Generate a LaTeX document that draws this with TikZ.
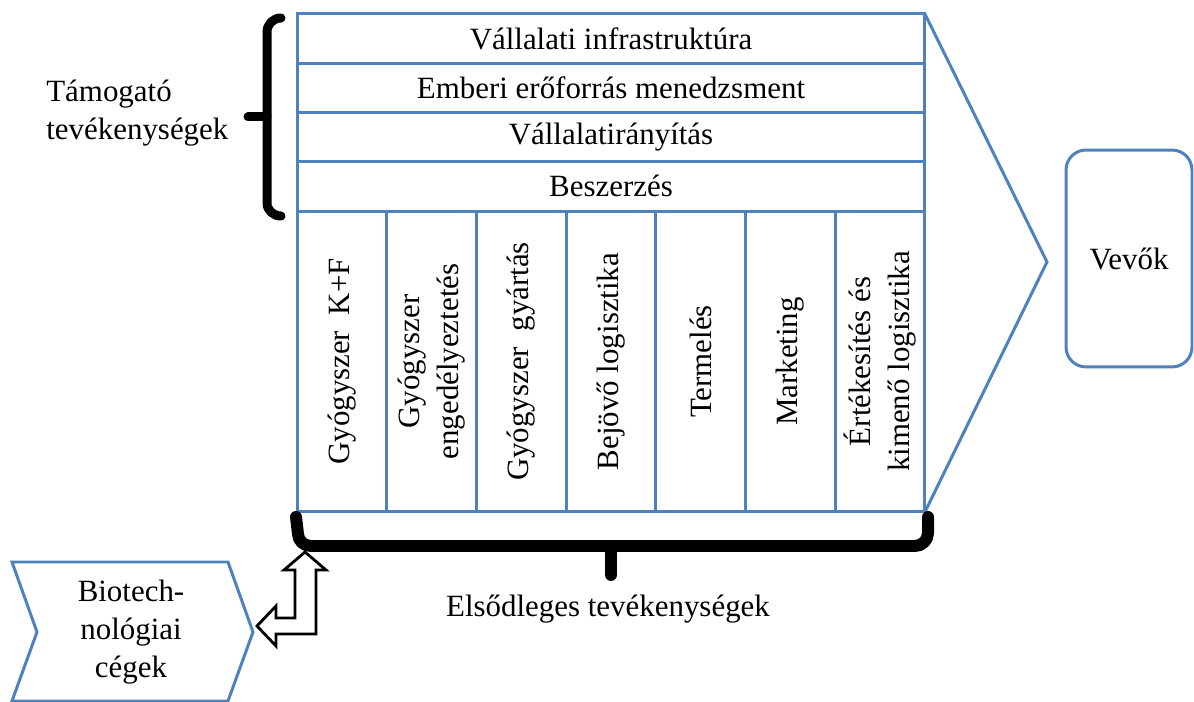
\documentclass[tikz,border=0pt]{standalone}
\usepackage{fontspec}
\setmainfont{Liberation Serif}
\usetikzlibrary{positioning}
\definecolor{lineblue}{RGB}{79,129,189}

\begin{document}
\begin{tikzpicture}[
    x=0.02cm, y=-0.02cm,
    font=\fontsize{17.6}{22}\selectfont,
    row/.style={rectangle, draw=lineblue, line width=1.7pt, minimum width=12.56cm, minimum height=0.985cm, inner sep=0pt, outer sep=0pt},
    col/.style={rectangle, draw=lineblue, line width=1.7pt, rotate=90, minimum width=6.02cm, minimum height=1.794cm, inner sep=0pt, outer sep=0pt, align=center},
    blueline/.style={draw=lineblue, line width=1.7pt},
    brace/.style={draw, line cap=round, line join=round},
    label/.style={inner sep=0pt, align=center}
]
    \useasboundingbox (0,0) rectangle (1194,702);

    % Support activities
    \node[row] (infra) at (611,38.6) {Vállalati infrastruktúra};
    \node[row] (hr) at (611,87.9) {Emberi erőforrás menedzsment};
    \node[row] (irany) at (611,137.1) {Vállalatirányítás};
    \node[row] (beszerzes) at (611,186.4) {Beszerzés};

    % Primary activities
    \node[col] (rd) at (341.9,361.5) {Gyógyszer\ \ K+F};
    \node[col] (engedely) at (431.6,361.5) {Gyógyszer\\engedélyeztetés};
    \node[col] (gyartas) at (521.3,361.5) {Gyógyszer\ \ gyártás};
    \node[col] (bejovo) at (611,361.5) {Bejövő logisztika};
    \node[col] (termeles) at (700.7,361.5) {Termelés};
    \node[col] (marketing) at (790.4,361.5) {Marketing};
    \node[col] (ertekesites) at (880.1,361.5) {Értékesítés és\\kimenő logisztika};

    % Margin arrow
    \coordinate (tip) at (1047,262);
    \draw[blueline] (infra.north east) -- (tip) -- (ertekesites.south west);

    % Customers
    \node[rectangle, blueline, rounded corners=0.4cm, minimum width=2.52cm, minimum height=4.34cm] (vevok) at (1129,258.5) {Vevők};

    % Braces
    \draw[brace, line width=0.18cm] (281,18) to[out=180,in=90] (267,32) -- (267,203) to[out=-90,in=180] (281,216);
    \draw[brace, line width=0.18cm] (267,117) -- (248,117);
    \draw[brace, line width=0.24cm] (296,517) -- (298,534) to[out=-90,in=180] (311,546) -- (915,546) to[out=0,in=-90] (928,533) -- (928,517);
    \draw[brace, line width=0.24cm] (611,546) -- (611,575);

    \node[label, align=left, anchor=west] (tamogato) at (46,113) {Támogató\\tevékenységek};
    \node[label] (elsodleges) at (608,609) {Elsődleges tevékenységek};

    % Biotech companies
    \draw[blueline] (12,562) -- (228,562) -- (253,632) -- (228,701) -- (12,701) -- (37,632) -- cycle;
    \node[label, font=\fontsize{17.6}{21.5}\selectfont] (biotech) at (131,632) {Biotech-\\nológiai\\cégek};

    % Link arrow
    \draw[line width=1.6pt, fill=white] (305,552) -- (326,570) -- (316,570) -- (316,634) -- (276,634) -- (276,646) -- (257,626) -- (276,606) -- (276,618) -- (295,618) -- (295,570) -- (284,570) -- cycle;

\end{tikzpicture}
\end{document}
